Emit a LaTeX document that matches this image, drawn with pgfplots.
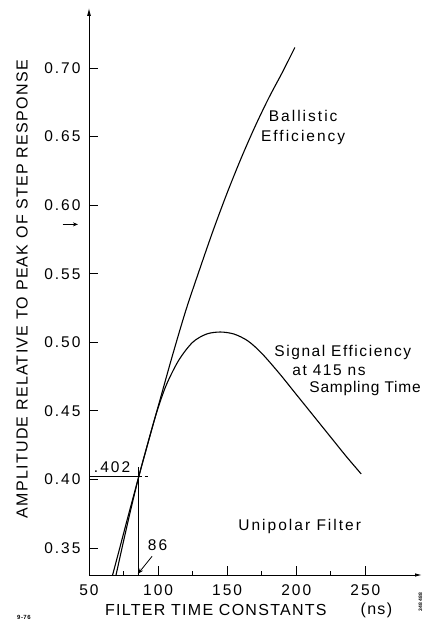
\documentclass[border=0pt]{standalone}
\usepackage{fontspec}
\setmainfont{Liberation Sans}[LetterSpace=8]
\newfontfamily\annfont{Liberation Sans}[LetterSpace=13]
\newfontfamily\sfA{Liberation Sans}[LetterSpace=10]
\newfontfamily\sfB{Liberation Sans}[LetterSpace=5]
\usepackage{pgfplots}
\pgfplotsset{compat=1.18}
\usetikzlibrary{arrows.meta}

\pgfplotstableread{
x y
67 0.330
72 0.349
78 0.372
86 0.402
93 0.428
100 0.453
110 0.489
120 0.523
130 0.553
140 0.582
150 0.609
160 0.634
170 0.657
180 0.678
190 0.697
199 0.715
}\ballistic

\pgfplotstableread{
x y
69.5 0.330
75 0.355
80 0.377
86 0.402
92 0.424
99 0.449
106 0.469
115 0.487
125 0.500
135 0.506
145 0.5075
155 0.506
165 0.501
175 0.492
188 0.477
200 0.462
212 0.447
224 0.432
236 0.417
247 0.404
}\signal

\begin{document}
\begin{tikzpicture}[x=1pt,y=1pt]
\useasboundingbox (0,0) rectangle (425,631);
\begin{axis}[
  at={(89pt,56pt)}, anchor=south west,
  scale only axis, width=333pt, height=567pt,
  xmin=50, xmax=291, ymin=0.3303, ymax=0.7438,
  axis lines=left,
  axis line style={line width=0.9pt},
  x axis line style={-{Latex[length=7pt,width=3.5pt]}},
  y axis line style={-{Latex[length=8pt,width=4pt]}},
  xtick={50,100,150,200,250}, minor xtick={75,125,175,225},
  ytick={0.35,0.40,0.45,0.50,0.55,0.60,0.65,0.70},
  tick align=inside,
  major tick length=9pt, minor tick length=4pt,
  tick style={line width=0.8pt, black},
  /pgf/number format/assume math mode=true,
  every tick label/.append style={font=\annfont\fontsize{15.5}{18}\selectfont},
  yticklabel style={xshift=-5pt, /pgf/number format/.cd, fixed, fixed zerofill, precision=2},
  xticklabel style={yshift=-6pt},
  xlabel={FILTER TIME CONSTANTS},
  ylabel={AMPLITUDE RELATIVE TO PEAK OF STEP RESPONSE},
  every axis x label/.style={at={(rel axis cs:0.381,-0.0617)}, anchor=center, font=\fontsize{16}{18}\selectfont},
  every axis y label/.style={at={(rel axis cs:-0.201,0.504)}, rotate=90, anchor=center, font=\fontsize{16}{18}\selectfont},
  clip=false,
]
\addplot[black, line width=1.1pt, smooth] table[x=x,y=y] {\ballistic};
\addplot[black, line width=1.1pt, smooth] table[x=x,y=y] {\signal};
\addplot[black, line width=0.8pt] coordinates {(50,0.402) (86,0.402)};
\addplot[black, line width=0.6pt, dashed] coordinates {(86,0.402) (93,0.402)};
\addplot[black, line width=0.8pt] coordinates {(86,0.3303) (86,0.409)};
\draw[black, line width=0.8pt, -{Stealth[length=6pt,width=4pt]}] (axis cs:95.7,0.344) -- (axis cs:85.3,0.331);
\draw[black, line width=0.8pt, -{Stealth[length=5pt,width=4pt]}] (axis cs:31,0.586) -- (axis cs:42,0.586);

\node[font=\annfont\fontsize{15.5}{20}\selectfont, align=center] at (axis cs:205,0.657) {Ballistic\\Efficiency};
\node[font=\sfA\fontsize{15.5}{18}\selectfont, anchor=west, inner sep=0pt] at (axis cs:184.1,0.4929) {Signal Efficiency};
\node[font=\sfA\fontsize{15.5}{18}\selectfont, anchor=west, inner sep=0pt] at (axis cs:197.1,0.4797) {at 415 ns};
\node[font=\sfB\fontsize{15.5}{18}\selectfont, anchor=west, inner sep=0pt] at (axis cs:209.4,0.4666) {Sampling Time};
\node[font=\annfont\fontsize{15.5}{18}\selectfont] at (axis cs:202.5,0.366) {Unipolar Filter};
\node[font=\annfont\fontsize{15.5}{18}\selectfont] at (axis cs:66.7,0.409) {.402};
\node[font=\annfont\fontsize{15.5}{18}\selectfont] at (axis cs:99.6,0.352) {86};
\node[font=\fontsize{16}{18}\selectfont] at (axis cs:258,0.3047) {(ns)};
\node[font=\fontsize{6}{7}\bfseries] at (axis cs:2.9,0.2996) {9-76};
\node[font=\fontsize{5}{6}\bfseries, rotate=90] at (axis cs:289.9,0.3105) {348488};
\end{axis}
\end{tikzpicture}
\end{document}
